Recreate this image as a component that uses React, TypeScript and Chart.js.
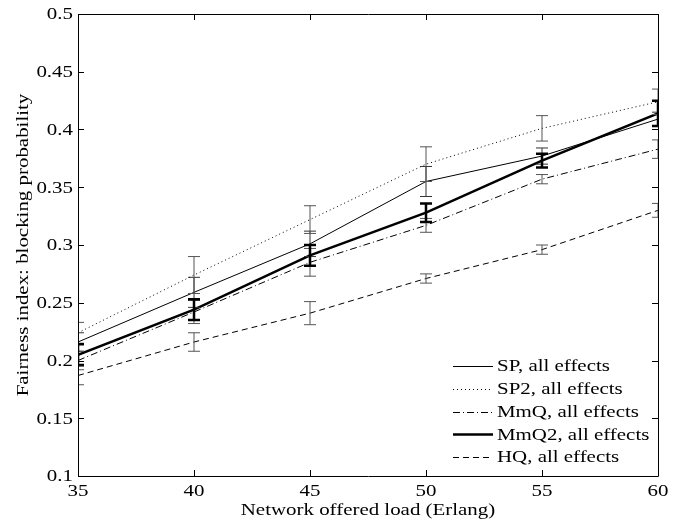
import React, { useEffect, useRef } from "react";
import { Chart, registerables } from "chart.js";

Chart.register(...registerables);

const loads = [35, 40, 45, 50, 55, 60];
const xTicks = [35, 40, 45, 50, 55, 60];
const yTicks = [0.1, 0.15, 0.2, 0.25, 0.3, 0.35, 0.4, 0.45, 0.5];
const xTitle = "Network offered load (Erlang)";
const yTitle = "Fairness index: blocking probability";

const seriesNames = [
  "SP, all effects",
  "SP2, all effects",
  "MmQ, all effects",
  "MmQ2, all effects",
  "HQ, all effects",
];

const spValues = [0.216, 0.259, 0.301, 0.355, 0.377, 0.409];
const sp2Values = [0.224, 0.274, 0.322, 0.37, 0.401, 0.424];
const mmqValues = [0.2, 0.242, 0.285, 0.317, 0.357, 0.383];
const mmq2Values = [0.205, 0.244, 0.291, 0.328, 0.373, 0.414];
const hqValues = [0.187, 0.216, 0.241, 0.271, 0.296, 0.33];

const spErr = [0.008, 0.013, 0.011, 0.013, 0.007, 0.006];
const sp2Err = [0.009, 0.016, 0.012, 0.015, 0.011, 0.011];
const mmqErr = [0.008, 0.01, 0.012, 0.006, 0.004, 0.008];
const mmq2Err = [0.009, 0.009, 0.009, 0.008, 0.006, 0.011];
const hqErr = [0.008, 0.008, 0.01, 0.004, 0.004, 0.006];

const FAMILY = "'Liberation Serif', 'DejaVu Serif', serif";
const FSIZE = 17;
const SX = 1.23; // horizontal glyph stretch seen in the reference text

function fmt(v: number) {
  return String(Number(v.toFixed(2)));
}

function stretchedText(ctx: any, text: string, x: number, y: number, align: string, rotate = 0) {
  ctx.save();
  ctx.translate(x, y);
  if (rotate) ctx.rotate(rotate);
  ctx.scale(SX, 1);
  ctx.textAlign = align;
  ctx.textBaseline = "middle";
  ctx.fillText(text, 0, 0);
  ctx.restore();
}

const errorBarPlugin = {
  id: "errorBars",
  afterDatasetsDraw(chart: any) {
    const { ctx, chartArea, scales } = chart;
    const xs = scales.x;
    const ys = scales.y;
    ctx.save();
    ctx.beginPath();
    ctx.rect(chartArea.left, chartArea.top, chartArea.right - chartArea.left, chartArea.bottom - chartArea.top);
    ctx.clip();
    chart.data.datasets.forEach((ds: any) => {
      const errs: number[] = ds.errors || [];
      ctx.strokeStyle = ds.errorColor || "#000";
      ctx.lineWidth = ds.borderWidth;
      ctx.setLineDash([]);
      ds.data.forEach((pt: any, i: number) => {
        const e = errs[i];
        if (e == null) return;
        const px = xs.getPixelForValue(pt.x);
        const top = ys.getPixelForValue(pt.y + e);
        const bot = ys.getPixelForValue(pt.y - e);
        const cap = 6;
        ctx.beginPath();
        ctx.moveTo(px, top);
        ctx.lineTo(px, bot);
        ctx.moveTo(px - cap, top);
        ctx.lineTo(px + cap, top);
        ctx.moveTo(px - cap, bot);
        ctx.lineTo(px + cap, bot);
        ctx.stroke();
      });
    });
    ctx.restore();
  },
};

const frameLegendPlugin = {
  id: "frameLegend",
  afterDraw(chart: any) {
    const { ctx, chartArea, scales } = chart;
    const { left, right, top, bottom } = chartArea;
    const tl = 6;
    ctx.save();
    ctx.strokeStyle = "#000";
    ctx.lineWidth = 1;
    ctx.setLineDash([]);
    ctx.beginPath();
    ctx.rect(Math.round(left) + 0.5, Math.round(top) + 0.5, Math.round(right - left), Math.round(bottom - top));
    ctx.stroke();
    ctx.beginPath();
    scales.x.ticks.forEach((t: any) => {
      const px = Math.round(scales.x.getPixelForValue(t.value)) + 0.5;
      ctx.moveTo(px, bottom);
      ctx.lineTo(px, bottom - tl);
      ctx.moveTo(px, top);
      ctx.lineTo(px, top + tl);
    });
    scales.y.ticks.forEach((t: any) => {
      const py = Math.round(scales.y.getPixelForValue(t.value)) + 0.5;
      ctx.moveTo(left, py);
      ctx.lineTo(left + tl, py);
      ctx.moveTo(right, py);
      ctx.lineTo(right - tl, py);
    });
    ctx.stroke();

    // tick labels and titles
    ctx.fillStyle = "#000";
    ctx.font = `${FSIZE}px ${FAMILY}`;
    scales.x.ticks.forEach((t: any) => {
      const px = scales.x.getPixelForValue(t.value);
      stretchedText(ctx, fmt(t.value), px, bottom + 16, "center");
    });
    scales.y.ticks.forEach((t: any) => {
      const py = scales.y.getPixelForValue(t.value);
      stretchedText(ctx, fmt(t.value), left - 5, py + 1, "right");
    });
    stretchedText(ctx, xTitle, (left + right) / 2, bottom + 35, "center");
    stretchedText(ctx, yTitle, 24, (top + bottom) / 2, "center", -Math.PI / 2);

    // legend
    const n = chart.data.datasets.length;
    const rowH = 22.75;
    chart.data.datasets.forEach((ds: any, i: number) => {
      const ry = bottom - 19 - (n - 1 - i) * rowH;
      ctx.strokeStyle = ds.borderColor;
      ctx.lineWidth = ds.borderWidth;
      ctx.setLineDash(ds.borderDash || []);
      ctx.beginPath();
      ctx.moveTo(right - 205, Math.round(ry) + 0.5);
      ctx.lineTo(right - 165, Math.round(ry) + 0.5);
      ctx.stroke();
      stretchedText(ctx, ds.label, right - 161, ry + 1, "left");
    });
    ctx.restore();
  },
};

function makeData(vals: number[]) {
  return loads.map((x, i) => ({ x, y: vals[i] }));
}

export default function App() {
  const ref = useRef<HTMLCanvasElement | null>(null);
  useEffect(() => {
    document.body.style.margin = "0";
    const canvas = ref.current;
    if (!canvas) return;
    const common = { pointRadius: 0, fill: false, tension: 0, borderColor: "#000" };
    const chart = new Chart(canvas, {
      type: "line",
      data: {
        datasets: [
          { ...common, label: seriesNames[0], data: makeData(spValues), borderWidth: 1, errors: spErr, errorColor: "#333" } as any,
          { ...common, label: seriesNames[1], data: makeData(sp2Values), borderWidth: 1, borderDash: [1, 3], errors: sp2Err, errorColor: "#555" } as any,
          { ...common, label: seriesNames[2], data: makeData(mmqValues), borderWidth: 1, borderDash: [7, 3, 1, 3], errors: mmqErr, errorColor: "#555" } as any,
          { ...common, label: seriesNames[3], data: makeData(mmq2Values), borderWidth: 2.5, errors: mmq2Err, errorColor: "#000" } as any,
          { ...common, label: seriesNames[4], data: makeData(hqValues), borderWidth: 1, borderDash: [6, 4], errors: hqErr, errorColor: "#555" } as any,
        ],
      },
      options: {
        responsive: false,
        animation: false,
        layout: { padding: { top: 14, right: 21, left: 0, bottom: 0 } },
        plugins: { legend: { display: false }, tooltip: { enabled: false } },
        scales: {
          x: {
            type: "linear",
            min: 35,
            max: 60,
            afterBuildTicks: (s: any) => {
              s.ticks = xTicks.map((v) => ({ value: v }));
            },
            afterFit: (s: any) => {
              s.height = 46;
            },
            grid: { display: false, drawTicks: false },
            border: { display: false },
            ticks: { display: false },
            title: { display: false },
          },
          y: {
            type: "linear",
            min: 0.1,
            max: 0.5,
            afterBuildTicks: (s: any) => {
              s.ticks = yTicks.map((v) => ({ value: v }));
            },
            afterFit: (s: any) => {
              s.width = 78;
            },
            grid: { display: false, drawTicks: false },
            border: { display: false },
            ticks: { display: false },
            title: { display: false },
          },
        },
      } as any,
      plugins: [errorBarPlugin, frameLegendPlugin],
    });
    return () => chart.destroy();
  }, []);
  return (
    <div style={{ position: "absolute", left: 0, top: 0, width: 679, height: 522, background: "#fff" }}>
      <canvas ref={ref} width={679} height={522} style={{ display: "block" }} />
    </div>
  );
}
